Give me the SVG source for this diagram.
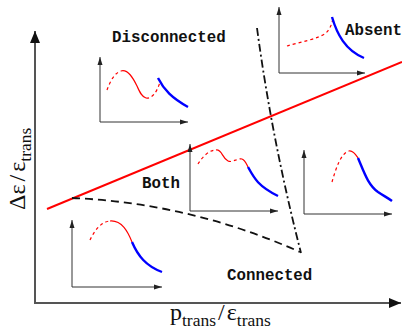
<svg xmlns="http://www.w3.org/2000/svg" width="402" height="331" viewBox="0 0 402 331">
<style>
.ax{stroke:#555;stroke-width:2;fill:none}
.iax{stroke:#333;stroke-width:1;fill:none}
.rs{stroke:#ff0000;stroke-width:1.2;fill:none}
.rd{stroke:#ff0000;stroke-width:1.2;fill:none;stroke-dasharray:3,3}
.bl{stroke:#0000ff;stroke-width:2.4;fill:none}
.lbl{font-family:"Liberation Mono",monospace;font-weight:bold;font-size:15.8px;fill:#111}
.math{font-family:"Liberation Serif",serif;fill:#111}
</style>
<defs>
<marker id="big" markerUnits="userSpaceOnUse" markerWidth="12" markerHeight="10" refX="12" refY="5" orient="auto">
<path d="M0,0 L12,5 L0,10 Z" fill="#111"/>
</marker>
<marker id="sm" markerUnits="userSpaceOnUse" markerWidth="8" markerHeight="6" refX="8" refY="3" orient="auto">
<path d="M0,0.5 L8,3 L0,5.5 Z" fill="#222"/>
</marker>
</defs>
<g id="axes">
<line class="ax" x1="35" y1="303" x2="35" y2="31" marker-end="url(#big)"/>
<line class="ax" x1="34" y1="303" x2="401" y2="303" marker-end="url(#big)"/>
<text class="math" font-size="24" transform="translate(25,210) rotate(-90)">Δε<tspan dx="3">/</tspan><tspan dx="3">ε</tspan><tspan font-size="17.5" dy="6">trans</tspan></text>
<text class="math" font-size="24" x="170" y="320">p<tspan font-size="17.5" dy="6">trans</tspan><tspan dy="-6" dx="2">/</tspan><tspan dx="2">ε</tspan><tspan font-size="17.5" dy="6">trans</tspan></text>
</g>
<g id="connectors">
<line x1="47" y1="209" x2="402" y2="62" stroke="#ff0000" stroke-width="2"/>
<path d="M72,198 Q190,203 300,252" fill="none" stroke="#111" stroke-width="1.8" stroke-dasharray="8,5"/>
<path d="M257,28 Q272,140 301,253" fill="none" stroke="#111" stroke-width="1.8" stroke-dasharray="8,3,2,3"/>
</g>
<g id="region-disconnected">
<text class="lbl" x="112" y="42">Disconnected</text>
</g>
<g id="region-absent">
<text class="lbl" x="345" y="35">Absent</text>
</g>
<g id="region-both">
<text class="lbl" x="142" y="188">Both</text>
</g>
<g id="region-connected">
<text class="lbl" x="227" y="280">Connected</text>
</g>
<g id="inset-disconnected">
<line class="iax" x1="100" y1="122" x2="100" y2="57" marker-end="url(#sm)"/>
<line class="iax" x1="100" y1="122" x2="188" y2="122" marker-end="url(#sm)"/>
<path class="rd" d="M107,90 C110,82 114,73 121,71"/>
<path class="rs" d="M121,71 C128,69 133,78 137,86 C140,93 142,97 146,98"/>
<path class="rd" d="M146,98 C152,99 157,92 160,82"/>
<path class="bl" d="M158,78 C164,90 172,98 188,107"/>
</g>
<g id="inset-absent">
<line class="iax" x1="279" y1="73" x2="279" y2="7" marker-end="url(#sm)"/>
<line class="iax" x1="279" y1="73" x2="365" y2="73" marker-end="url(#sm)"/>
<path class="rd" d="M287,46 C300,42 318,39 326,33 C330,29 332,24 333,18"/>
<path class="bl" d="M332,17 C337,34 345,50 364,58"/>
</g>
<g id="inset-both">
<line class="iax" x1="190" y1="211" x2="190" y2="144" marker-end="url(#sm)"/>
<line class="iax" x1="190" y1="211" x2="278" y2="211" marker-end="url(#sm)"/>
<path class="rd" d="M198,164 C202,158 208,150 216,150"/>
<path class="rs" d="M216,150 C222,149 222,158 228,161"/>
<path class="rd" d="M228,161 C233,163 237,158 242,159"/>
<path class="rs" d="M242,159 C245,160 246,163 248,167"/>
<path class="bl" d="M248,167 C254,178 258,186 278,196"/>
</g>
<g id="inset-connected-right">
<line class="iax" x1="304" y1="214" x2="304" y2="150" marker-end="url(#sm)"/>
<line class="iax" x1="304" y1="214" x2="392" y2="214" marker-end="url(#sm)"/>
<path class="rd" d="M332,182 C336,168 341,153 349,151"/>
<path class="rs" d="M349,151 C353,150 356,155 358,158"/>
<path class="bl" d="M358,158 C364,172 368,185 378,192 C384,196 388,198 392,201"/>
</g>
<g id="inset-connected-left">
<line class="iax" x1="72" y1="287" x2="72" y2="220" marker-end="url(#sm)"/>
<line class="iax" x1="72" y1="287" x2="162" y2="287" marker-end="url(#sm)"/>
<path class="rd" d="M90,240 C94,232 100,222 110,221"/>
<path class="rs" d="M110,221 C122,220 128,232 132,242"/>
<path class="bl" d="M132,242 C138,256 146,266 162,272"/>
</g>
</svg>
